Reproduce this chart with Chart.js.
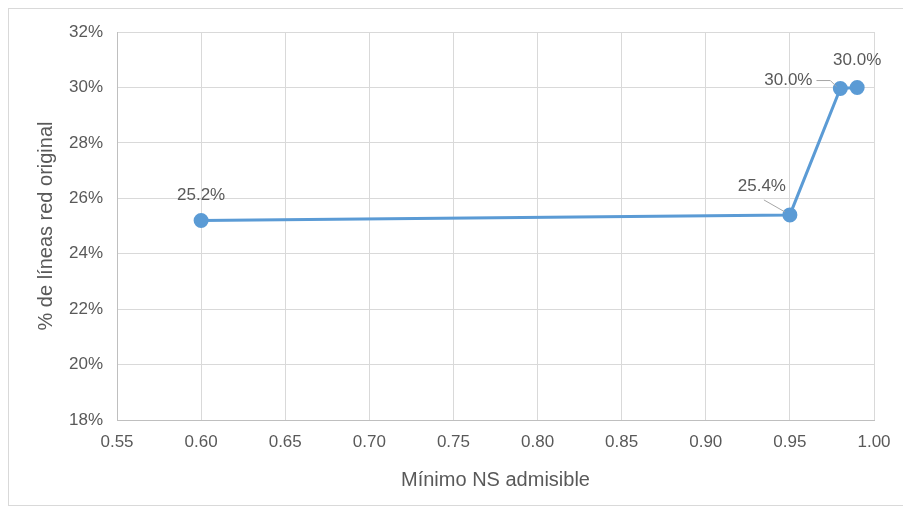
<!DOCTYPE html>
<html>
<head>
<meta charset="utf-8">
<script src="https://cdn.jsdelivr.net/npm/chart.js@4.4.1/dist/chart.umd.min.js"></script>
<style>
  html, body { margin: 0; padding: 0; background: #fff; }
  #wrap { position: relative; width: 903px; height: 511px; }
  #frame { position: absolute; left: 8px; top: 8px; width: 900px; height: 496px; border: 1px solid #d9d9d9; }
  canvas { position: absolute; left: 0; top: 0; }
</style>
</head>
<body>
<div id="wrap">
  <div id="frame"></div>
  <canvas id="chart" width="903" height="511"></canvas>
</div>
<script>
// minimum admissible service level vs share of original network lines
const nsLevels = [0.60, 0.95, 0.98, 0.99];
const pctLines = [25.2, 25.4, 29.96, 30.0];
const xTicks = [0.55, 0.60, 0.65, 0.70, 0.75, 0.80, 0.85, 0.90, 0.95, 1.00];
const yTicks = [18, 20, 22, 24, 26, 28, 30, 32];

// where each value label sits relative to its point, and whether it gets a leader line
const labelPlacement = [
  { dx: 0, dy: -25, leader: false },
  { dx: -28, dy: -29, leader: true },
  { dx: -52, dy: -8, leader: true },
  { dx: 0, dy: -27, leader: false }
];

const textColor = '#595959';
const fontFamily = "'Liberation Sans', Arial, sans-serif";

const valueLabels = {
  id: 'valueLabels',
  afterDatasetsDraw(chart) {
    const ctx = chart.ctx;
    const meta = chart.getDatasetMeta(0);
    ctx.save();
    ctx.font = '17px ' + fontFamily;
    ctx.fillStyle = textColor;
    ctx.textAlign = 'center';
    ctx.textBaseline = 'middle';
    meta.data.forEach((pt, i) => {
      const p = labelPlacement[i];
      const tx = pt.x + p.dx;
      const ty = pt.y + p.dy;
      const text = pctLines[i].toFixed(1) + '%';
      ctx.fillText(text, tx, ty);
      if (p.leader) {
        const w = ctx.measureText(text).width;
        ctx.strokeStyle = '#a6a6a6';
        ctx.lineWidth = 1;
        ctx.beginPath();
        if (p.dy < -15) {
          ctx.moveTo(tx + 2, ty + 14);
          ctx.lineTo(pt.x - 5, pt.y - 3);
        } else {
          ctx.moveTo(tx + w / 2 + 4, ty);
          ctx.lineTo(pt.x - 10, ty);
          ctx.lineTo(pt.x - 4, pt.y - 2);
        }
        ctx.stroke();
      }
    });
    ctx.restore();
  }
};

new Chart(document.getElementById('chart').getContext('2d'), {
  type: 'scatter',
  data: {
    datasets: [{
      data: nsLevels.map((x, i) => ({ x: x, y: pctLines[i] })),
      showLine: true,
      borderColor: '#5b9bd5',
      backgroundColor: '#5b9bd5',
      borderWidth: 3,
      pointRadius: 6,
      pointHoverRadius: 6
    }]
  },
  options: {
    responsive: false,
    animation: false,
    layout: { padding: { left: 0, right: 29, top: 32, bottom: 0 } },
    plugins: { legend: { display: false }, tooltip: { enabled: false } },
    scales: {
      x: {
        type: 'linear',
        min: 0.55,
        max: 1.0,
        afterBuildTicks: axis => { axis.ticks = xTicks.map(v => ({ value: v })); },
        afterFit: axis => { axis.height = 91; },
        grid: { color: '#d9d9d9', drawTicks: false },
        border: { color: '#bfbfbf' },
        ticks: {
          padding: 12,
          color: textColor,
          font: { family: fontFamily, size: 17 },
          callback: v => v.toFixed(2)
        },
        title: {
          display: true,
          text: 'Mínimo NS admisible',
          color: textColor,
          font: { family: fontFamily, size: 20 },
          padding: { top: 0, bottom: 19 }
        }
      },
      y: {
        min: 18,
        max: 32,
        afterBuildTicks: axis => { axis.ticks = yTicks.map(v => ({ value: v })); },
        afterFit: axis => { axis.width = 117; },
        grid: { color: '#d9d9d9', drawTicks: false },
        border: { color: '#bfbfbf' },
        ticks: {
          padding: 14,
          color: textColor,
          font: { family: fontFamily, size: 17 },
          callback: v => v + '%'
        },
        title: {
          display: true,
          text: '% de líneas red original',
          color: textColor,
          font: { family: fontFamily, size: 20 },
          padding: { top: 34, bottom: 0 }
        }
      }
    }
  },
  plugins: [valueLabels]
});
</script>
</body>
</html>
